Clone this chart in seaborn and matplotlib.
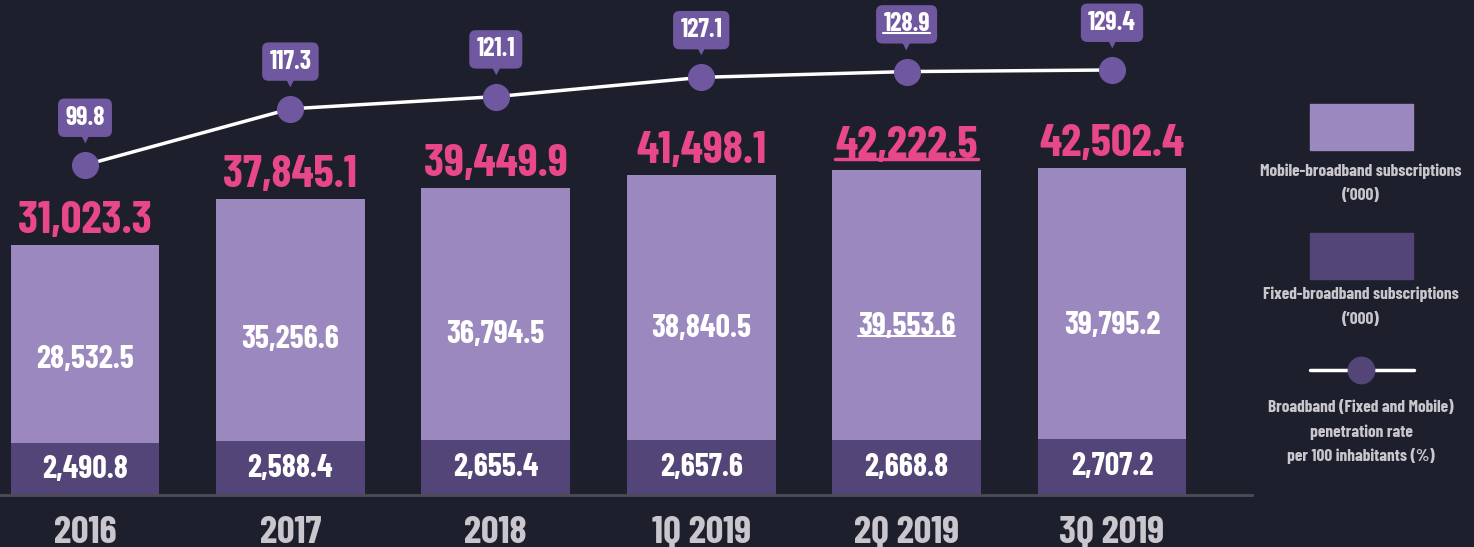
"""
Broadband subscriptions and penetration rate - stacked bars + line
"""

import numpy as np
import pandas as pd
import matplotlib
matplotlib.use('Agg')
import matplotlib.pyplot as plt
from matplotlib.patches import Rectangle
from matplotlib.lines import Line2D
import seaborn as sns

# Data
periods = ['2016', '2017', '2018', '1Q 2019', '2Q 2019', '3Q 2019']
fixed = [2490.8, 2588.4, 2655.4, 2657.6, 2668.8, 2707.2]
mobile = [28532.5, 35256.6, 36794.5, 38840.5, 39553.6, 39795.2]
total = [31023.3, 37845.1, 39449.9, 41498.1, 42222.5, 42502.4]
penetration = [99.8, 117.3, 121.1, 127.1, 128.9, 129.4]
highlight = '2Q 2019'

# Colours
BG = '#1e1f2d'
LIGHT = '#9b88bf'
DARK = '#534577'
PINK = '#e8488a'
DOT = '#7058a0'
GREY = '#c9c7cd'

sns.set_theme(style='dark', rc={'figure.facecolor': BG, 'axes.facecolor': BG,
                                'savefig.facecolor': BG})
plt.rcParams['font.family'] = ['Barlow Condensed', 'Archivo Narrow', 'DejaVu Sans']

W, H = 1474, 547
fig = plt.figure(figsize=(W / 100, H / 100), dpi=100)
ax = fig.add_axes([0, 52 / H, 1252 / W, 495 / H])

# the fixed segment is stretched like in the original infographic
T, A = 3000.0, 3.1
def fwd(v):
    v = np.asarray(v, dtype=float)
    return np.where(v < T, v * A, T * A + (v - T))
def inv(u):
    u = np.asarray(u, dtype=float)
    return np.where(u < T * A, u / A, u - T * A + T)

df = pd.DataFrame({'period': periods, 'fixed': fixed, 'mobile': mobile, 'total': total})
sns.barplot(data=df, x='period', y='total', color=LIGHT, width=0.725, saturation=1,
            linewidth=0, edgecolor='none', ax=ax)
sns.barplot(data=df, x='period', y='fixed', color=DARK, width=0.725, saturation=1,
            linewidth=0, edgecolor='none', ax=ax)
ax.set_yscale('function', functions=(fwd, inv))
ax.set_xlim(-85 / 205.4, (1252 - 85) / 205.4)
ymax = float(inv(fwd(max(total)) * 495 / 327))
ax.set_ylim(0, ymax)
ax.set_xlabel('')
ax.set_ylabel('')
ax.set_yticks([])
ax.tick_params(axis='x', length=0, pad=15, labelsize=28, labelcolor=GREY)
for lab in ax.get_xticklabels():
    lab.set_fontweight('bold')
for s in ['top', 'right', 'left']:
    ax.spines[s].set_visible(False)
ax.spines['bottom'].set_color('#4c4c55')
ax.spines['bottom'].set_linewidth(2)

underline = []
for i, p in enumerate(periods):
    t = ax.annotate(f'{total[i]:,.1f}', xy=(i, total[i]), xytext=(0, 3),
                    textcoords='offset points', ha='center', va='bottom',
                    color=PINK, fontsize=33, fontweight='bold')
    # mobile label sits a bit below the middle of its segment
    pos = float(inv(fwd(fixed[i]) + 0.42 * (fwd(total[i]) - fwd(fixed[i]))))
    t2 = ax.text(i, pos, f'{mobile[i]:,.1f}', ha='center', va='center',
                 color='white', fontsize=23, fontweight='bold')
    ax.text(i, float(inv(fwd(fixed[i]) / 2)), f'{fixed[i]:,.1f}', ha='center',
            va='center', color='white', fontsize=23, fontweight='bold')
    if p == highlight:
        underline += [(t, PINK, 2.5), (t2, 'white', 1.5)]

# Penetration rate line
ax2 = ax.twinx()
ax2.plot(range(len(periods)), penetration, color='white', lw=2.5, marker='o',
         markersize=18.5, markerfacecolor=DOT, markeredgecolor=DOT)
ax2.set_ylim(-3.0, 151.2)
ax2.set_yticks([])
for s in ['top', 'right', 'left', 'bottom']:
    ax2.spines[s].set_visible(False)

for i, v in enumerate(penetration):
    t = ax2.annotate(f'{v}', xy=(i, v), xytext=(0, 34), textcoords='offset points',
                     ha='center', va='center', color='white', fontsize=18.5,
                     fontweight='bold',
                     bbox=dict(boxstyle='round,pad=0.28,rounding_size=0.25', fc=DOT, ec='none'))
    ax2.annotate('\u25BC', xy=(i, v), xytext=(0, 19), textcoords='offset points',
                 ha='center', va='center', color=DOT, fontsize=8, family='DejaVu Sans')
    if periods[i] == highlight:
        underline.append((t, 'white', 1.5))

# Legend drawn by hand on the right
lax = fig.add_axes([1252 / W, 0, 222 / W, 1])
lax.set_xlim(1252, 1474)
lax.set_ylim(547, 0)
lax.axis('off')
lax.add_patch(Rectangle((1310, 104), 103, 46, color=LIGHT))
lax.add_patch(Rectangle((1310, 233), 103, 46, color=DARK))
lax.plot([1310, 1414], [370, 370], color='white', lw=2.5)
lax.plot([1361], [370], marker='o', markersize=19, color=DARK)
legend_lines = [(171, 'Mobile-broadband subscriptions'), (196, '(\u2019000)'),
                (294, 'Fixed-broadband subscriptions'), (319, '(\u2019000)'),
                (408, 'Broadband (Fixed and Mobile)'), (432, 'penetration rate'),
                (456, 'per 100 inhabitants (%)')]
for y, txt in legend_lines:
    lax.text(1361, y, txt, ha='center', va='center', color=GREY, fontsize=12.5,
             fontweight='bold')

# underline the highlighted quarter
fig.canvas.draw()
renderer = fig.canvas.get_renderer()
for t, col, lw in underline:
    bb = t.get_window_extent(renderer)
    y = bb.y0 + 0.16 * (bb.y1 - bb.y0)
    fig.add_artist(Line2D([bb.x0 / W, bb.x1 / W], [y / H, y / H], transform=fig.transFigure,
                          color=col, lw=lw))

plt.savefig('out.png', dpi=100)
plt.close()
